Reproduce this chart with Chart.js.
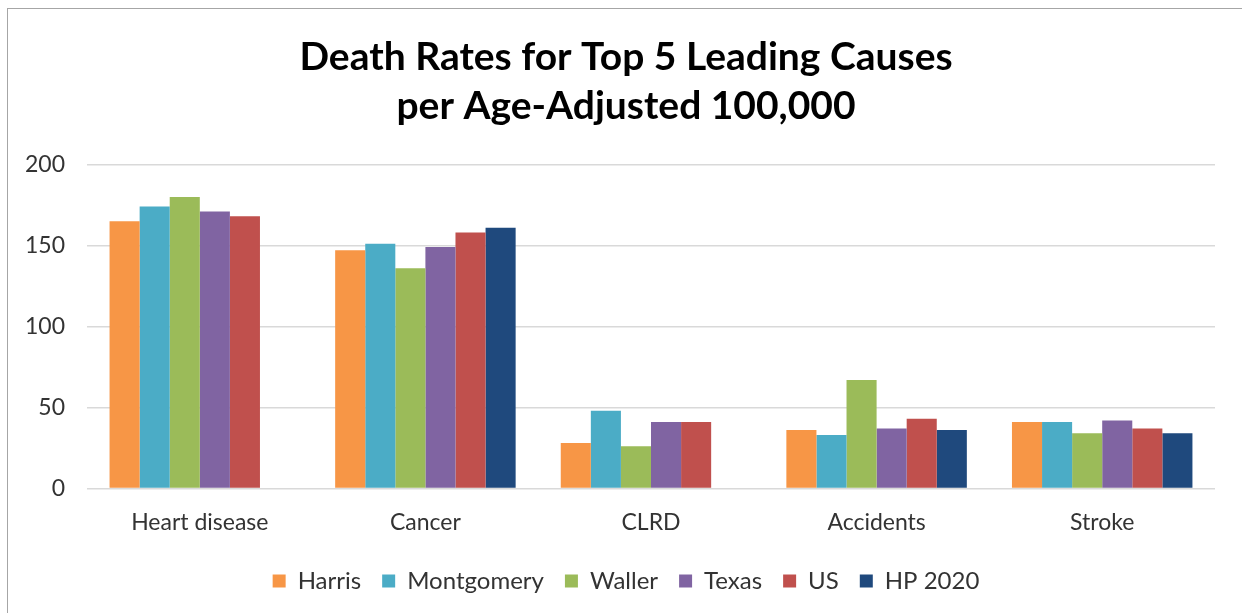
<!DOCTYPE html>
<html>
<head>
<meta charset="utf-8">
<script src="https://cdn.jsdelivr.net/npm/chart.js@4.4.1/dist/chart.umd.min.js"></script>
<style>
  body { margin: 0; background: #fff; }
  #wrap { position: relative; width: 1242px; height: 613px; }
  #frame { position: absolute; left: 7px; top: 8px; width: 1250px; height: 620px; border: 1px solid #a6a6a6; box-sizing: border-box; }
  canvas { position: absolute; left: 0; top: 0; }
</style>
</head>
<body>
<div id="wrap">
  <div id="frame"></div>
  <canvas id="chartContainer" width="1242" height="613"></canvas>
</div>
<script>
var categories = ["Heart disease", "Cancer", "CLRD", "Accidents", "Stroke"];
var seriesNames = ["Harris", "Montgomery", "Waller", "Texas", "US", "HP 2020"];
var harris = [165, 147, 28, 36, 41];
var montgomery = [174, 151, 48, 33, 41];
var waller = [180, 136, 26, 67, 34];
var texas = [171, 149, 41, 37, 42];
var us = [168, 158, 41, 43, 37];
var hp2020 = [null, 161, null, 36, 34];
var colors = ["#F79646", "#4BACC6", "#9BBB59", "#8064A2", "#C0504D", "#1F497D"];
var yTicks = [0, 50, 100, 150, 200];

var allValues = [harris, montgomery, waller, texas, us, hp2020];
var font = "Lato, 'Open Sans', sans-serif";

var ctx = document.getElementById('chartContainer').getContext('2d');
new Chart(ctx, {
  type: 'bar',
  data: {
    labels: categories,
    datasets: allValues.map(function (vals, i) {
      return {
        label: seriesNames[i],
        data: vals,
        backgroundColor: colors[i],
        barPercentage: 1,
        categoryPercentage: 0.8
      };
    })
  },
  options: {
    responsive: false,
    animation: false,
    layout: { padding: { top: 33, left: 10, right: 0, bottom: 10 } },
    plugins: {
      title: {
        display: true,
        text: ["Death Rates for Top 5 Leading Causes", "per Age-Adjusted 100,000"],
        color: '#000',
        font: { family: font, size: 39, weight: 'bold', lineHeight: 1.25 },
        padding: { top: 0, bottom: 34 }
      },
      legend: {
        position: 'bottom',
        labels: {
          color: '#333',
          font: { family: font, size: 24 },
          boxWidth: 13,
          boxHeight: 13,
          padding: 21
        }
      },
      tooltip: { enabled: false }
    },
    scales: {
      x: {
        grid: { display: false },
        border: { display: false },
        ticks: { color: '#333', font: { family: font, size: 23 }, padding: 12 }
      },
      y: {
        min: 0,
        max: 200,
        afterFit: function (scale) { scale.width = 77; },
        afterBuildTicks: function (scale) {
          scale.ticks = yTicks.map(function (v) { return { value: v }; });
        },
        grid: { color: '#d9d9d9', lineWidth: 1.5, drawTicks: false },
        border: { display: false },
        ticks: { color: '#333', font: { family: font, size: 23 }, padding: 22 }
      },
      // empty right-hand spacer so the title and legend centre like the original
      yRight: {
        position: 'right',
        afterFit: function (scale) { scale.width = 27; },
        grid: { display: false },
        border: { display: false },
        ticks: { display: false }
      }
    }
  }
});
</script>
</body>
</html>
